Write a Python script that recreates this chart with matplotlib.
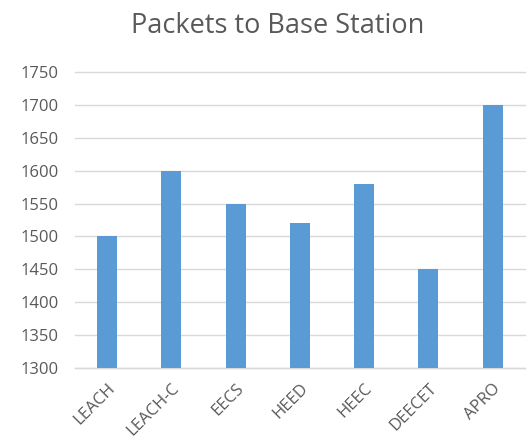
import matplotlib
matplotlib.use('Agg')
import matplotlib.pyplot as plt

# data
protocols = ['LEACH', 'LEACH-C', 'EECS', 'HEED', 'HEEC', 'DEECET', 'APRO']
packets = [1500, 1600, 1550, 1520, 1580, 1450, 1700]
yticks = list(range(1300, 1751, 50))

plt.rcParams['font.family'] = ['Open Sans', 'DejaVu Sans']
text_color = '#595959'

fig = plt.figure(figsize=(5.28, 4.44), dpi=100)
ax = fig.add_axes([0.142, 0.171, 0.852, 0.667])

x = range(len(protocols))
ax.bar(x, packets, width=0.31, color='#5B9BD5', zorder=3)

ax.set_ylim(1300, 1750)
ax.set_xlim(-0.5, len(protocols) - 0.5)
ax.set_yticks(yticks)
ax.set_xticks(list(x))
ax.set_xticklabels(protocols, rotation=45, ha='right', rotation_mode='anchor')
ax.tick_params(axis='both', length=0, colors=text_color, labelsize=12)
ax.tick_params(axis='y', pad=12)
ax.tick_params(axis='x', pad=9)

ax.grid(axis='y', color='#D9D9D9', linewidth=1, zorder=0, clip_on=False)
for s in ax.spines.values():
    s.set_visible(False)
ax.axhline(1300, color='#D9D9D9', linewidth=1, zorder=1, clip_on=False)

fig.text(0.525, 0.941, 'Packets to Base Station', ha='center', va='center',
         fontsize=19.5, color=text_color)

plt.savefig('out.png', dpi=100)
